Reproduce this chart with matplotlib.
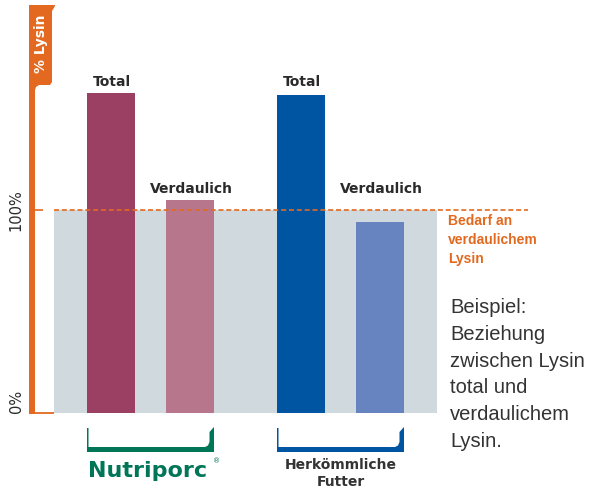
import matplotlib
matplotlib.use("Agg")
import matplotlib.pyplot as plt
from matplotlib.patches import Polygon, Rectangle

# ---- data ----
groups = ["Nutriporc", "Herkömmliche\nFutter"]
bar_labels = ["Total", "Verdaulich", "Total", "Verdaulich"]
values = [157.6, 104.9, 156.7, 94.1]          # % lysine relative to requirement
requirement = 100
y_ticks = [0, 100]
y_tick_labels = ["0%", "100%"]
axis_title = "% Lysin"
req_label = ["Bedarf an", "verdaulichem", "Lysin"]
note_lines = ["Beispiel:", "Beziehung", "zwischen Lysin", "total und", "verdaulichem", "Lysin."]

# ---- style ----
bar_colors = ["#9b3f63", "#b8768c", "#0055a3", "#6783c0"]
grey = "#d0d9de"
orange = "#e2691f"
green = "#007658"
blue = "#0055a3"
dark = "#2a2a2a"

W, H = 589, 490
fig = plt.figure(figsize=(W / 100, H / 100), dpi=100)

# pixel overlay axes (y downwards)
pa = fig.add_axes([0, 0, 1, 1])
pa.set_xlim(0, W)
pa.set_ylim(H, 0)
pa.axis("off")

# data axes: 0% at y=413px, 100% at y=210px
base_px, px_per_pct = 413, 2.03
ax = fig.add_axes([0, (H - base_px) / H, 1, base_px / H])
ax.set_xlim(0, W)
ax.set_ylim(0, base_px / px_per_pct)
ax.axis("off")

# grey requirement zone
ax.add_patch(Rectangle((54, 0), 383, requirement, facecolor=grey, edgecolor="none", zorder=1))

# bars
centers = [111, 190, 301, 380]
ax.bar(centers, values, width=48, color=bar_colors, zorder=2)

# dashed requirement line
ax.hlines(requirement, 54, 528, color=orange, lw=1.2, linestyles=(0, (3.0, 1.7)), zorder=3)
ax.hlines(requirement, 35, 43, color=orange, lw=1.2, zorder=3)

# bar labels (fixed heights per label type)
label_y = {"Total": 86, "Verdaulich": 193}
for c, lab in zip(centers, bar_labels):
    pa.text(c + 1, label_y[lab], lab, ha="center", va="baseline", fontsize=10,
            fontweight="bold", color=dark, family="DejaVu Sans")

# orange axis with tab
tab = Polygon([(29, 414), (29, 5), (55, 5), (55, 6), (52, 11), (52, 82), (50, 85),
               (39, 85), (36, 87), (35, 90), (35, 414)],
              closed=True, facecolor=orange, edgecolor="none")
pa.add_patch(tab)
pa.plot([35, 54], [413, 413], color=orange, lw=1.3, solid_capstyle="butt")
pa.text(41, 44, axis_title, rotation=90, ha="center", va="center",
        color="white", fontsize=10, fontweight="bold", family="DejaVu Sans")

# y tick labels
for t, lab in zip(y_ticks, y_tick_labels):
    ypx = base_px - t * px_per_pct
    pa.text(16, ypx, lab, rotation=90, ha="center",
            va="bottom" if t == 0 else "center",
            fontsize=10.5, color=dark, family="DejaVu Sans")

# requirement label
for i, line in enumerate(req_label):
    pa.text(448, 225 + i * 19, line, ha="left", va="baseline", fontsize=10,
            fontweight="bold", color=orange, family="Liberation Sans")

# note
for i, line in enumerate(note_lines):
    pa.text(450, 313 + i * 26.8, line, ha="left", va="baseline", fontsize=14.5,
            color="#333333", family="Liberation Sans")

# brackets
def bracket(x0, x1, color):
    pts = [(x0, 428), (x0 + 1.5, 428), (x0 + 1.5, 447), (x1 - 9, 447), (x1 - 6, 445.5),
           (x1 - 4.5, 442), (x1 - 4.5, 432), (x1, 427), (x1, 452), (x0, 452)]
    pa.add_patch(Polygon(pts, closed=True, facecolor=color, edgecolor="none"))

bracket(87, 214, green)
bracket(277, 404, blue)

# group labels
pa.text(88, 477, groups[0], ha="left", va="baseline", fontsize=16,
        fontweight="bold", color=green, family="DejaVu Sans")
pa.text(213, 463, "®", ha="left", va="baseline", fontsize=5, color=green,
        family="DejaVu Sans")
glines = groups[1].split("\n")
pa.text(341, 469, glines[0], ha="center", va="baseline", fontsize=10,
        fontweight="bold", color="#333333", family="DejaVu Sans")
pa.text(341, 486, glines[1], ha="center", va="baseline", fontsize=10,
        fontweight="bold", color="#333333", family="DejaVu Sans")

fig.savefig("out.png", dpi=100)
